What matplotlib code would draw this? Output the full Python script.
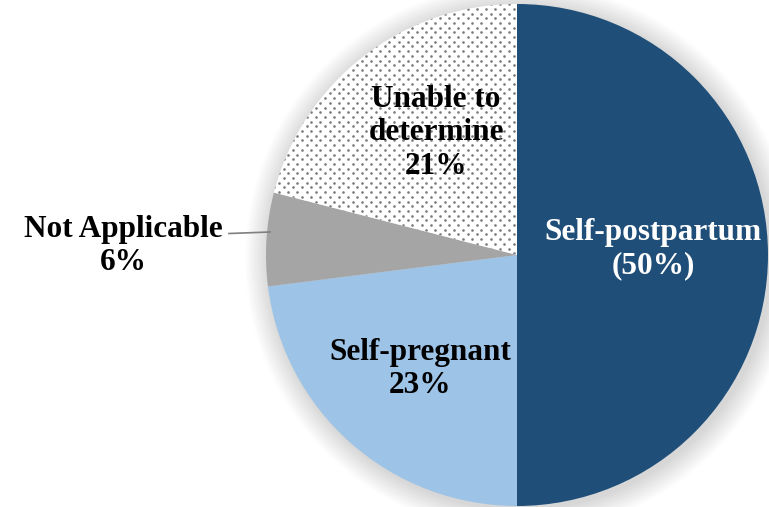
import numpy as np
import matplotlib.pyplot as plt
from matplotlib.patches import Circle

# Data
labels = ['Self-postpartum\n(50%)', 'Self-pregnant\n23%', 'Not Applicable\n6%', 'Unable to\ndetermine\n21%']
sizes = [50, 23, 6, 21]
colors = ['#1F4E79', '#9DC3E6', '#A5A5A5', '#FFFFFF']

W, H = 769, 507
fig = plt.figure(figsize=(W / 100, H / 100), dpi=100)
ax = fig.add_axes([0, 0, 1, 1])

cx, cy, r = 517, H - 255, 251

# soft glow behind the pie
for i in range(20):
    ax.add_patch(Circle((cx + 3, cy - 3), r + 1 + i * 1.2, color='black',
                        alpha=0.007, lw=0, zorder=0))

wedges, _ = ax.pie(sizes, colors=colors, startangle=90, counterclock=False,
                   center=(cx, cy), radius=r, frame=True,
                   wedgeprops=dict(linewidth=0))
ax.set_xlim(0, W)
ax.set_ylim(0, H)
ax.set_aspect('equal')
ax.axis('off')
for w in wedges:
    w.set_zorder(2)

# dotted texture for "Unable to determine", clipped to its wedge
step_x, step_y = 9.2, 4.7
gx, gy = [], []
for j, y in enumerate(np.arange(0, H, step_y)):
    shift = step_x / 2 if j % 2 else 0
    for x in np.arange(cx - r - 10 + shift, cx + 5, step_x):
        gx.append(x)
        gy.append(y)
dots = ax.scatter(gx, gy, s=3.6, color='#7A7A7A', linewidths=0, zorder=3)
dots.set_clip_path(wedges[3])

font = dict(family='Liberation Serif', fontweight='bold', fontsize=22.5,
            ha='center', va='center', linespacing=1.22, zorder=5)
ax.text(653, H - 249, labels[0], color='white', **font)
ax.text(420, H - 369, labels[1], color='black', **font)
ax.text(123, H - 246, labels[2], color='black', **font)
ax.text(436, H - 133, labels[3], color='black', **font)

# leader line for the small slice
ax.plot([229, 270], [H - 233.5, H - 232], color='#7F7F7F', lw=1.2, zorder=4)

fig.savefig('out.png', dpi=100)
